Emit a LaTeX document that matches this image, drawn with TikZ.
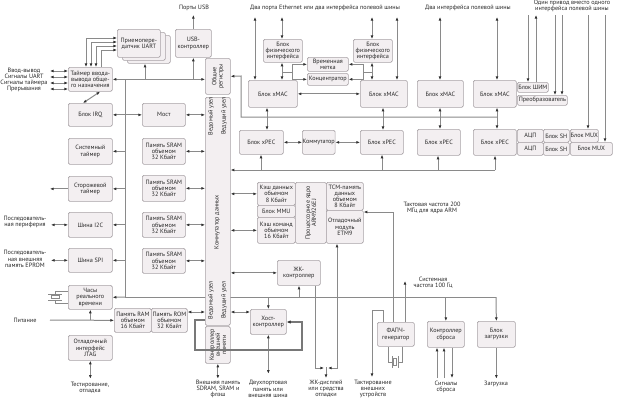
\documentclass[tikz,border=0pt]{standalone}
\usepackage{fontspec}
\setmainfont{PT Sans}
\usetikzlibrary{arrows.meta}
\definecolor{boxfill}{RGB}{243,239,241}
\definecolor{boxdraw}{RGB}{168,162,166}
\definecolor{lncol}{RGB}{138,138,138}
\definecolor{thkcol}{RGB}{120,120,120}
\definecolor{tipcol}{RGB}{50,50,50}
\definecolor{txt}{RGB}{40,40,40}
\newcommand\dfont{\fontsize{6.2}{6.2}\selectfont}
\newcommand\mkbox[6]{\node[box,minimum width=#4pt,minimum height=#5pt,anchor=north west] (#1) at (#2,#3) {#6};}
\tikzset{
  box/.style={draw=boxdraw, fill=boxfill, rounded corners=1.5pt, line width=0.7pt, align=center, inner sep=0.3pt, font=\dfont, text=txt},
  lab/.style={font=\dfont, text=txt, align=center, inner sep=0pt},
  ln/.style={draw=lncol, line width=1pt},
  arr/.style={ln, -{Latex[length=3.6pt,width=2.9pt,color=tipcol]}},
  darr/.style={ln, {Latex[length=3.6pt,width=2.9pt,color=tipcol]}-{Latex[length=3.6pt,width=2.9pt,color=tipcol]}},
  thk/.style={draw=thkcol, line width=1.9pt, -{Latex[length=4pt,width=3.6pt,color=tipcol]}},
  xtal/.style={draw=lncol, line width=0.8pt}
}
\begin{document}
\begin{tikzpicture}[x=1pt,y=-1pt]
\fill[white] (0,0) rectangle (620,400);
\useasboundingbox (0,0) rectangle (620,400);

% peripheral bus (behind boxes)
\coordinate (pbA) at (125,79);
\coordinate (pbB) at (125,297);
\coordinate (pbC) at (496,297);
\draw[ln] (pbA) -- (pbB) -- (pbC);

% ---------- boxes ----------
\mkbox{uartC}{127}{35}{43}{28}{}
\mkbox{uartB}{122}{32}{43}{28}{}
\mkbox{uart}{117}{29}{43}{28}{Приемопере-\\датчик UART}
\mkbox{usb}{175}{29}{36}{28}{USB-\\контроллер}
\mkbox{timer}{68}{67}{44}{24}{Таймер ввода-\\вывода обще-\\го назначения}
\mkbox{regs}{205}{58}{25}{36}{}
\node[lab,rotate=90] (regsl) at (regs.center) {Общие\\регистры};
\mkbox{irq}{68}{103}{44}{23}{Блок IRQ}
\mkbox{bridge}{142}{103}{43}{23}{Мост}
\mkbox{systimer}{68}{138}{44}{26}{Системный\\таймер}
\mkbox{wdt}{68}{176}{44}{25}{Сторожевой\\таймер}
\mkbox{i2c}{68}{212}{44}{25}{Шина I2C}
\mkbox{spi}{68}{248}{44}{24}{Шина SPI}
\mkbox{sram1}{142}{138}{43}{26}{Память SRAM\\объемом\\32 Кбайт}
\mkbox{sram2}{142}{175}{43}{26}{Память SRAM\\объемом\\32 Кбайт}
\mkbox{sram3}{142}{212}{43}{25}{Память SRAM\\объемом\\32 Кбайт}
\mkbox{sram4}{142}{248}{43}{25}{Память SRAM\\объемом\\32 Кбайт}
\mkbox{rtc}{68}{285}{44}{24}{Часы\\реального\\времени}
\mkbox{ram}{114}{308}{37}{24}{Память RAM\\объемом\\16 Кбайт}
\mkbox{rom}{151}{308}{36}{24}{Память ROM\\объемом\\32 Кбайт}
\mkbox{jtag}{68}{335}{44}{25}{Отладочный\\интерфейс\\JTAG}
\mkbox{col}{205}{97}{25}{228}{}
\node[lab,rotate=90] (c1) at (211,116) {Ведомый узел};
\node[lab,rotate=90] (c2) at (224,116) {Ведущий узел};
\node[lab,rotate=90] (c3) at (217,222) {Коммутатор данных};
\node[lab,rotate=90] (c4) at (211,300) {Ведомый узел};
\node[lab,rotate=90] (c5) at (224,300) {Ведущий узел};
\mkbox{emc}{205}{326}{25}{37}{}
\node[lab,rotate=90] (emcl) at (emc.center) {Контроллер\\внешней\\памяти};

\mkbox{phy1}{263}{39}{39}{23}{Блок\\физического\\интерфейса}
\mkbox{phy2}{353}{39}{39}{23}{Блок\\физического\\интерфейса}
\mkbox{tstamp}{307}{57}{41}{14}{Временная\\метка}
\mkbox{hub}{307}{73}{41}{12}{Концентратор}
\mkbox{xmac1}{248}{80}{49}{27}{Блок xMAC}
\mkbox{xmac2}{360}{80}{47}{27}{Блок xMAC}
\mkbox{xmac3}{417}{80}{46}{27}{Блок xMAC}
\mkbox{xmac4}{473}{80}{43}{27}{Блок xMAC}
\mkbox{pwm}{517}{82}{31}{10}{Блок ШИМ}
\mkbox{conv}{517}{95}{50}{10}{Преобразователь}
\mkbox{xpec1}{239}{130}{44}{24}{Блок xPEC}
\mkbox{sw}{302}{130}{31}{24}{Коммутатор}
\mkbox{xpec2}{360}{130}{43}{24}{Блок xPEC}
\mkbox{xpec3}{417}{129}{43}{26}{Блок xPEC}
\mkbox{xpec4}{473}{129}{43}{26}{Блок xPEC}
\mkbox{adc1}{517}{129}{26}{13}{АЦП}
\mkbox{adc2}{517}{142}{26}{13}{АЦП}
\mkbox{sh1}{543}{129}{26}{13}{Блок SH}
\mkbox{sh2}{543}{142}{26}{13}{Блок SH}
\mkbox{mux1}{570}{129}{28}{13}{Блок MUX}
\mkbox{mux2}{570}{142}{42}{13}{Блок MUX}

\mkbox{dcache}{257}{182}{38}{23}{Кэш данных\\объемом\\8 Кбайт}
\mkbox{mmu}{257}{205}{38}{12}{Блок MMU}
\mkbox{icache}{257}{217}{38}{26}{Кэш команд\\объемом\\16 Кбайт}
\mkbox{core}{295}{182}{31}{61}{}
\node[lab,rotate=90] (corel) at (core.center) {Процессорное ядро\\ARM926EJ};
\mkbox{tcm}{326}{182}{37}{28}{TCM-память\\данных\\объемом\\8 Кбайт}
\mkbox{etm}{326}{210}{37}{33}{Отладочный\\модуль\\ETM9}
\mkbox{lcd}{277}{260}{43}{25}{ЖК-\\контроллер}
\mkbox{host}{250}{309}{36}{25}{Хост-\\контроллер}
\mkbox{pll}{377}{322}{37}{24}{ФАПЧ-\\генератор}
\mkbox{rst}{427}{321}{37}{26}{Контроллер\\сброса}
\mkbox{boot}{477}{321}{38}{26}{Блок\\загрузки}

% ---------- free labels ----------
\node[lab] (usbl) at (194,8) {Порты USB};
\node[lab] (ethl) at (325,8) {Два порта Ethernet или два интерфейса полевой шины};
\node[lab] (fbl) at (468,8) {Два интерфейса полевой шины};
\node[lab] (drvl) at (572,6) {Один привод вместо одного\\интерфейса полевой шины};
\node[lab,font=\fontsize{6.2}{6}\selectfont] (iol) at (24,80) {Ввод-вывод\\Сигналы UART\\Сигналы таймера\\Прерывания};
\node[lab] (serl) at (25,222) {Последователь-\\ная периферия};
\node[lab] (epl) at (25,259) {Последователь-\\ная внешняя\\память EPROM};
\node[lab] (pwrl) at (25,320) {Питание};
\node[lab] (testl) at (90,388) {Тестирование,\\отладка};
\node[lab] (extl) at (218,389) {Внешняя память\\SDRAM, SRAM и\\флэш};
\node[lab] (dpl) at (268,389) {Двухпортовая\\память или\\внешняя шина};
\node[lab] (lcdl) at (326,389) {ЖК-дисплей\\или средства\\отладки};
\node[lab] (clkl) at (373,389) {Тактирование\\внешних\\устройств};
\node[lab] (rstl) at (446,387) {Сигналы\\сброса};
\node[lab] (bootl) at (496,384) {Загрузка};
\node[lab] (armclk) at (432,208) {Тактовая частота 200\\МГц для ядра ARM};
\node[lab] (sysclk) at (433,283) {Системная\\частота 100 Гц};

% ---------- connectors: left part ----------
\draw[darr] (timer.east) -- (regs.west |- timer.east);
\draw[arr] (145,79) -- (uartC.south -| 145,0);
\draw[arr] (usb.south |- pbA) -- (usb.south);
\draw[arr] (usb.north) -- ++(0,-14);
\foreach \x/\y in {86/38,91/42,96/46}
  \draw[darr] (timer.north -| \x,0) -- (\x,\y) -- (uart.west |- 0,\y);
\draw[arr] (timer.north -| 101,0) -- (101,50) -- (uart.west |- 0,50);
\foreach \y in {71,77,83,89}
  \draw[darr] (50,\y) -- (timer.west |- 0,\y);
\draw[darr] (irq.north -| 83,0) -- (timer.south -| 100,0);
\draw[darr] (irq.east) -- (bridge.west);
\draw[darr] (bridge.east) -- (col.west |- bridge.east);
\foreach \n in {systimer,wdt,i2c,spi}
  \draw[arr] (pbA |- \n.east) -- (\n.east);
\draw[arr] (wdt.west) -- ++(-18,0);
\draw[darr] (i2c.west) -- ++(-17,0);
\draw[darr] (spi.west) -- ++(-17,0);
\foreach \n in {sram1,sram2,sram3,sram4}
  \draw[darr] (\n.east) -- (col.west |- \n.east);
\draw[arr] (pbB) -- (rtc.east);
\draw[darr] (rom.east |- 0,312) -- (col.west |- 0,312);
\draw[arr] (50,320) -- (ram.west);
\draw[arr] (rtc.south |- 0,320) -- (rtc.south);
\draw[darr] (jtag.south) -- ++(0,18);
\draw[darr] (emc.south) -- ++(0,15);
% RTC crystal
\draw[xtal] (rtc.west |- 0,291) -- (55,291) -- (55,294);
\draw[xtal] (rtc.west |- 0,303) -- (55,303) -- (55,300);
\draw[xtal] (48,294) -- (62,294);
\draw[xtal] (48,300) -- (62,300);
\draw[xtal] (51,295.5) rectangle (59,298.5);

% ---------- connectors: top centre ----------
\draw[darr] (255,17) -- (xmac1.north -| 255,0);
\draw[darr] (282,17) -- (phy1.north -| 282,0);
\draw[darr] (372,17) -- (phy2.north -| 372,0);
\draw[darr] (397,17) -- (xmac2.north -| 397,0);
\draw[darr] (440,17) -- (xmac3.north -| 440,0);
\draw[darr] (497,17) -- (xmac4.north -| 497,0);
\draw[darr] (phy1.south -| 282,0) -- (xmac1.north -| 282,0);
\draw[darr] (phy2.south -| 372,0) -- (xmac2.north -| 372,0);
\draw[ln] (282,72) -- (292,72);
\draw[arr] (292,72) |- (tstamp.west);
\draw[arr] (292,72) |- (hub.west);
\draw[ln] (372,72) -- (363,72);
\draw[arr] (363,72) |- (tstamp.east);
\draw[arr] (363,72) |- (hub.east);
\draw[darr] (xmac1.east) -- (xmac2.west);
\draw[arr] (497,117) -- (241,117) -- (241,76) -- (regs.east);
\draw[darr] (xmac1.south -| 267,0) -- (xpec1.north -| 267,0);
\draw[darr] (xmac2.south -| 383,0) -- (xpec2.north -| 383,0);
\draw[darr] (xmac3.south -| 440,0) -- (xpec3.north -| 440,0);
\draw[darr] (xmac4.south -| 497,0) -- (xpec4.north -| 497,0);
\draw[darr] (xpec1.east) -- (sw.west);
\draw[darr] (sw.east) -- (xpec2.west);
% right top
\draw[arr] (528,15) -- (pwm.north -| 528,0);
\draw[arr] (pwm.north -| 536,0) -- (536,15);
\draw[arr] (555,15) -- (conv.north -| 555,0);
\draw[arr] (562,15) -- (conv.north -| 562,0);
\draw[arr] (588,15) -- (mux1.north -| 588,0);
\draw[arr] (605,15) -- (mux2.north -| 605,0);
% lower xPEC bus
\draw[arr] (495,170) -- (col.east |- 0,170);
\foreach \n/\x in {xpec1/261,xpec2/382,xpec3/438,xpec4/495}
  \draw[arr] (\x,170) -- (\n.south -| \x,0);

% ---------- connectors: processor and bottom ----------
\draw[darr] (col.east |- dcache.west) -- (dcache.west);
\draw[darr] (col.east |- icache.west) -- (icache.west);
\draw[arr] (pll.north -| 393,0) -- (393,212) -- (etm.east |- 0,212);
\draw[arr] (lcd.south -| 315,0) -- (315,368) -- (324,368);
\draw[darr] (328,368) -| (etm.south -| 337,0);
\draw[arr] (326,367) -- (326,378);
\draw[darr] (col.east |- lcd.west) -- (lcd.west);
\draw[arr] (299,297) -- (lcd.south -| 299,0);
\draw[arr] (host.north |- pbB) -- (host.north);
\draw[darr] (col.east |- 0,312) -- (host.west |- 0,312);
\draw[darr] (host.south) -- ++(0,39);
\draw[thk] (col.west |- 0,320) -- (195,320) -- (195,350) -- (302,350) -- (302,322) -- (host.east |- 0,322);
\draw[arr] (pll.north -| 405,0) -- (405,281);
\draw[arr] (pll.north -| 383,0) -- (383,310) -- (372,310) -- (372,377);
% PLL crystal
\draw[xtal] (pll.south -| 388,0) -- (388,362) -- (392,362);
\draw[xtal] (pll.south -| 402,0) -- (402,362) -- (398,362);
\draw[xtal] (392,356) -- (392,368);
\draw[xtal] (398,356) -- (398,368);
\draw[xtal] (393.5,358.5) rectangle (396.5,365.5);
% reset and boot
\draw[arr] (rst.north |- pbB) -- (rst.north);
\draw[arr] (437,378) -- (rst.south -| 437,0);
\draw[arr] (444,378) -- (rst.south -| 444,0);
\draw[arr] (rst.south -| 452,0) -- (452,378);
\draw[arr] (pbC) -- (boot.north);
\draw[arr] (boot.south) -- ++(0,31);
\end{tikzpicture}
\end{document}
